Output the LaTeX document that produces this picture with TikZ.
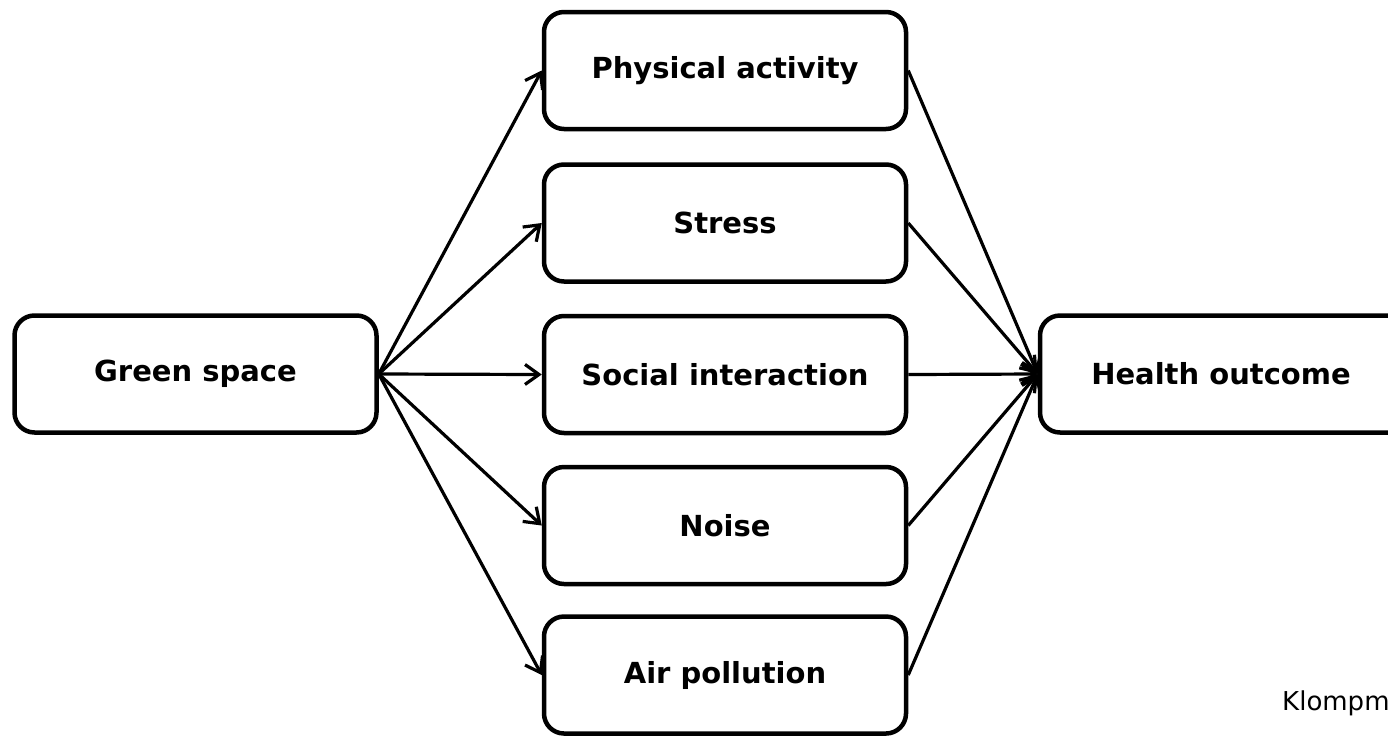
\documentclass[tikz,border=0pt]{standalone}
\usepackage{fontspec}
\setmainfont{DejaVu Sans}
\usetikzlibrary{arrows.meta}
\begin{document}
\begin{tikzpicture}[x=1pt,y=-1pt,
  box/.style={draw, line width=4.5pt, rounded corners=20pt, minimum width=362pt, minimum height=117pt, inner sep=0pt, font=\fontsize{29}{34}\selectfont\bfseries},
  conn/.style={line width=3.2pt, -{Straight Barb[length=14pt,width=20pt,line width=3.2pt]}}
]
\useasboundingbox (0,0) rectangle (1388,737);
\clip (0,0) rectangle (1388,737);
\node[box] (g) at (195.5,374) {Green space};
\node[box] (p) at (725,70.5) {Physical activity};
\node[box] (s) at (725,223) {Stress};
\node[box] (si) at (725,374.5) {Social interaction};
\node[box] (n) at (725,525.5) {Noise};
\node[box] (a) at (725,675) {Air pollution};
\node[box, minimum width=400pt] (h) at (1240,374) {\hspace*{-38pt}Health outcome};
\node[anchor=base west, font=\fontsize{26}{30}\selectfont, inner sep=0pt] (k) at (1282,710) {Klompm};
\foreach \m in {p,s,si,n,a}{
  \draw[conn] (g.east) -- (\m.west);
  \draw[conn] (\m.east) -- (h.west);
}
\end{tikzpicture}
\end{document}
